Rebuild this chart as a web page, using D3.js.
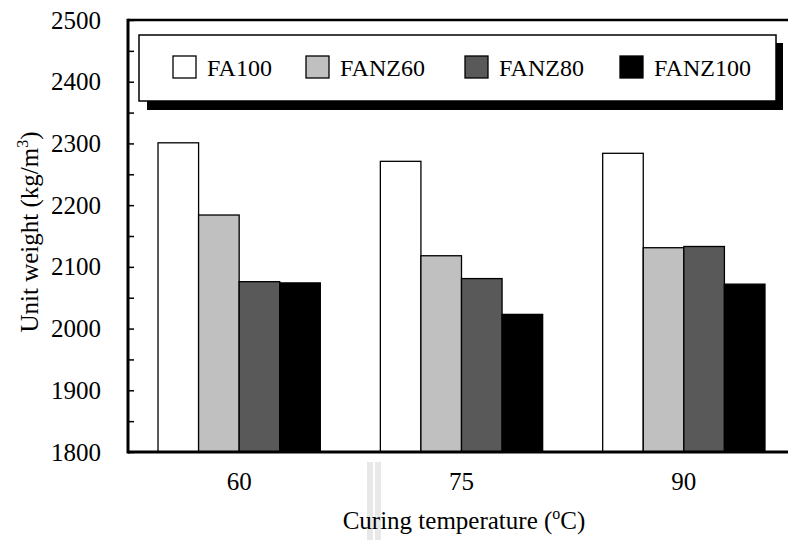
<!DOCTYPE html>
<html><head><meta charset="utf-8">
<script src="https://cdn.jsdelivr.net/npm/d3@7"></script>
<style>
html,body{margin:0;padding:0;background:#fff;}
</style></head>
<body><svg id="chart" width="788" height="540"></svg>
<script>
const categories = ["60", "75", "90"];
const seriesNames = ["FA100", "FANZ60", "FANZ80", "FANZ100"];
const FA100 = [2301, 2271, 2284];
const FANZ60 = [2184, 2118, 2131];
const FANZ80 = [2076, 2081, 2133];
const FANZ100 = [2074, 2023, 2072];
const yTicks = [1800, 1900, 2000, 2100, 2200, 2300, 2400, 2500];
const colors = ["#ffffff", "#c0c0c0", "#595959", "#000000"];

(function () {
const FONT = "Liberation Serif";
const seriesValues = [FA100, FANZ60, FANZ80, FANZ100];
const svg = d3.select("#chart").attr("font-family", FONT);
const pLeft = 128, pTop = 20, pBottom = 452, pRight = 795;

const x = d3.scaleBand().domain(categories).range([pLeft, pRight]).paddingInner(0.27).paddingOuter(0.135);
const xs = d3.scaleBand().domain(seriesNames).range([0, x.bandwidth()]).padding(0);
const y = d3.scaleLinear().domain([1800, 2500]).range([pBottom, pTop]);

// faint scan artifact
const art = svg.append("g");
art.append("rect").attr("x", 367).attr("y", 462).attr("width", 14).attr("height", 78).attr("fill", "#e8e8e8");
art.append("rect").attr("x", 373).attr("y", 462).attr("width", 2).attr("height", 78).attr("fill", "#ffffff");

// bars
const g = svg.append("g");
categories.forEach((c, i) => {
  seriesNames.forEach((s, j) => {
    const v = seriesValues[j][i];
    g.append("rect")
      .attr("x", x(c) + xs(s))
      .attr("y", y(v))
      .attr("width", xs.bandwidth())
      .attr("height", y(1800) - y(v))
      .attr("fill", colors[j])
      .attr("stroke", "#000")
      .attr("stroke-width", 1.3);
  });
});

// y axis
const minor = d3.range(1800, 2501, 50);
const yAxis = d3.axisLeft(y).tickValues(minor)
  .tickFormat(d => yTicks.includes(d) ? String(d) : "")
  .tickSizeInner(-6).tickSizeOuter(0).tickPadding(27);
const ya = svg.append("g").attr("transform", `translate(${pLeft},0)`).call(yAxis);
ya.attr("font-family", "Times New Roman").attr("font-size", 25);
ya.select(".domain").remove();
ya.selectAll(".tick line").attr("stroke", "#000").attr("stroke-width", 1.5);
ya.selectAll(".tick text").attr("fill", "#000");

// x axis labels
const xAxis = d3.axisBottom(x).tickSize(0).tickPadding(20);
const xa = svg.append("g").attr("transform", `translate(0,${pBottom})`).call(xAxis);
xa.attr("font-family", "Times New Roman").attr("font-size", 25);
xa.select(".domain").remove();
xa.selectAll(".tick text").attr("fill", "#000");

// frame
svg.append("line").attr("x1", pLeft).attr("x2", 788).attr("y1", pTop).attr("y2", pTop).attr("stroke", "#000").attr("stroke-width", 2.5);
svg.append("line").attr("x1", pLeft).attr("x2", 788).attr("y1", pBottom).attr("y2", pBottom).attr("stroke", "#000").attr("stroke-width", 3);
svg.append("line").attr("x1", pLeft).attr("x2", pLeft).attr("y1", pTop - 1.25).attr("y2", pBottom + 1.5).attr("stroke", "#000").attr("stroke-width", 3);

// legend
const lg = svg.append("g").attr("font-family", "serif").attr("font-size", 24);
lg.append("rect").attr("x", 147).attr("y", 43).attr("width", 636).attr("height", 67).attr("fill", "#000");
lg.append("rect").attr("x", 139).attr("y", 35).attr("width", 637).attr("height", 66).attr("fill", "#fff").attr("stroke", "#000").attr("stroke-width", 1.5);
const legX = [173, 306, 465, 620];
seriesNames.forEach((s, j) => {
  lg.append("rect").attr("x", legX[j]).attr("y", 56).attr("width", 23).attr("height", 22)
    .attr("fill", colors[j]).attr("stroke", "#000").attr("stroke-width", 1.3);
  lg.append("text").attr("x", legX[j] + 34).attr("y", 76).text(s);
});

// axis titles
const yt = svg.append("text").attr("transform", "translate(38,232) rotate(-90)").attr("text-anchor", "middle").attr("font-size", 25);
yt.append("tspan").text("Unit weight (kg/m");
yt.append("tspan").attr("dy", -10).attr("font-size", 16).text("3");
yt.append("tspan").attr("dy", 10).text(")");

const xt = svg.append("text").attr("x", 464).attr("y", 529).attr("text-anchor", "middle").attr("font-size", 25);
xt.append("tspan").text("Curing temperature (");
xt.append("tspan").attr("dy", -10).attr("font-size", 16).text("o");
xt.append("tspan").attr("dy", 10).text("C)");
})();
</script></body></html>
